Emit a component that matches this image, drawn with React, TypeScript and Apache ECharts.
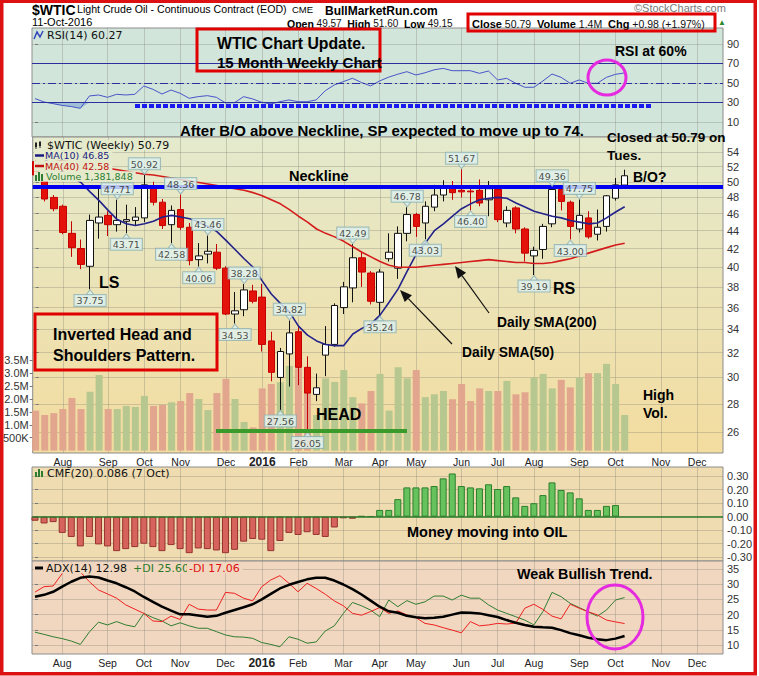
import React, { useEffect, useRef } from "react";
import * as echarts from "echarts";

// ---- weekly bars: index 0 = week of 13-Jul-2015 ... index 65 = week of 10-Oct-2016 ----
const opens = [52.7,50.9,48.0,46.9,43.7,42.0,40.1,44.9,45.8,44.7,45.1,45.2,45.5,49.3,47.4,44.7,46.5,44.4,40.8,41.4,41.6,39.9,35.4,35.8,37.6,37.0,33.0,30.0,31.9,33.8,30.8,28.7,31.8,32.7,36.0,37.9,41.0,39.4,36.5,40.9,39.9,43.7,45.9,44.9,46.8,48.3,49.3,48.9,48.8,48.9,47.7,49.0,44.9,46.7,44.2,41.2,41.9,44.8,49.0,47.4,44.2,45.5,43.6,44.5,47.9,49.57];
const highs = [53.3,51.2,48.3,47.1,45.1,43.0,45.9,49.4,46.3,47.71,47.1,46.8,50.92,50.0,47.8,47.0,48.36,44.9,42.6,43.46,42.5,40.1,37.5,38.28,38.2,38.3,33.8,32.4,34.82,34.2,31.7,30.3,34.3,36.4,38.5,42.49,41.7,39.6,39.8,43.7,44.5,46.78,46.1,47.5,49.6,50.2,50.1,51.67,49.4,50.3,50.1,49.3,46.9,46.9,44.4,42.2,44.8,49.36,49.1,47.6,47.75,46.3,46.5,48.3,50.5,51.60];
const lows = [50.5,47.5,46.3,43.6,41.1,39.8,37.75,43.1,43.4,43.9,43.71,44.6,45.0,47.0,44.2,42.58,44.1,40.2,40.06,40.4,39.7,35.3,34.53,35.2,36.4,32.1,29.7,27.56,29.3,29.4,26.05,28.2,30.1,32.5,35.4,36.5,38.0,36.3,35.24,40.6,38.8,42.8,43.3,43.03,46.3,47.5,47.7,48.0,46.40,46.9,45.7,45.0,44.4,43.7,40.6,39.19,40.9,44.4,46.4,43.00,43.8,43.1,42.9,43.9,47.6,49.15];
const closes = [50.9,47.8,46.6,43.8,42.1,40.3,45.2,45.6,44.7,45.2,45.3,45.6,49.6,47.4,44.6,46.4,44.4,40.7,41.2,41.7,39.9,35.4,35.7,37.7,36.6,32.7,30.4,32.1,33.7,30.8,28.8,29.2,32.7,36.2,38.0,41.0,39.5,36.6,39.5,41.6,43.7,45.9,44.5,46.9,48.3,49.2,48.6,48.7,48.7,47.3,49.1,45.3,46.4,44.2,41.5,41.8,44.5,49.0,47.5,44.5,45.8,43.3,44.4,48.2,49.6,50.79];
// volume in millions, and whether the bar was drawn green (1) or red (0)
const volumesM = [1.55,1.38,1.45,1.61,2.04,1.61,2.28,2.93,1.61,1.61,1.73,1.69,2.12,1.73,1.77,1.87,1.92,2.23,2.0,1.57,2.23,2.78,2.0,1.11,0.90,2.41,2.58,2.65,3.28,3.19,2.25,1.38,2.80,2.66,3.12,2.07,1.83,2.31,2.97,1.55,3.23,2.80,3.12,2.07,2.18,2.31,1.99,2.58,1.92,2.41,2.31,2.31,2.70,2.18,2.26,2.84,2.97,2.41,2.74,2.45,2.84,3.0,3.0,3.36,2.58,1.38];
const volumeUp = [0,0,0,0,0,0,1,1,0,1,1,1,1,0,0,1,0,0,1,1,0,0,1,1,0,0,0,1,1,0,0,1,1,1,1,1,0,0,1,1,1,1,0,1,1,1,0,0,0,0,1,0,1,0,0,1,1,1,0,0,1,0,1,1,1,1];
const ma10 = [54.0,53.0,52.0,51.3,50.6,49.9,48.7,47.6,46.4,45.3,44.8,44.6,44.8,45.1,45.6,45.8,45.6,45.4,45.0,44.5,43.9,42.9,41.9,40.9,40.0,38.6,37.3,36.4,35.6,34.3,33.5,33.0,32.7,32.6,32.6,33.6,34.1,34.5,35.3,36.5,37.8,39.6,41.4,42.6,44.0,44.8,45.7,46.6,47.2,47.7,47.9,48.0,47.9,47.3,46.8,46.3,46.0,45.7,45.5,45.2,45.0,44.8,44.9,45.5,46.2,46.85];
const ma40 = [53.6,53.4,53.1,52.8,52.6,52.4,52.2,52.0,51.8,51.6,51.4,51.2,51.0,50.9,50.7,50.5,50.3,50.1,49.9,49.7,49.5,49.3,49.1,48.9,48.6,48.2,47.7,47.2,46.5,45.7,45.0,44.2,43.7,43.3,42.8,42.2,41.6,41.1,40.6,40.2,40.0,40.0,40.0,40.1,40.2,40.3,40.4,40.5,40.6,40.7,40.8,40.7,40.6,40.5,40.5,40.4,40.4,40.5,40.7,40.9,41.2,41.5,41.8,42.1,42.4,42.58];
const rsi14 = [34.0,30.5,28.8,27.0,25.8,24.0,36.7,37.7,35.3,38.4,37.7,38.4,46.9,43.5,38.7,42.8,39.4,34.3,36.0,37.0,35.3,29.6,29.8,36.0,33.6,30.2,28.5,30.8,32.6,30.8,30.8,32.6,42.1,48.0,51.4,54.8,50.5,47.0,52.1,56.0,59.0,61.6,58.2,60.5,63.5,65.0,62.6,62.6,62.6,59.9,62.3,53.1,54.8,49.7,45.6,45.6,52.1,59.2,55.8,49.7,53.1,49.7,49.7,55.8,58.9,60.27];
const cmf20 = [-0.03,-0.05,-0.04,-0.12,-0.15,-0.22,-0.15,-0.205,-0.22,-0.255,-0.24,-0.225,-0.20,-0.225,-0.255,-0.21,-0.24,-0.27,-0.235,-0.24,-0.25,-0.27,-0.245,-0.185,-0.165,-0.17,-0.255,-0.18,-0.12,-0.135,-0.115,-0.135,-0.15,-0.08,-0.012,-0.015,0.005,0.003,0.05,0.05,0.13,0.217,0.217,0.217,0.227,0.284,0.32,0.227,0.217,0.21,0.24,0.205,0.227,0.143,0.08,0.10,0.16,0.254,0.198,0.18,0.136,0.05,0.05,0.08,0.086];
const adx14 = [25.9,26.5,27.5,29.2,30.8,32.1,32.5,32.2,31.2,30.3,29.0,27.6,25.8,24.2,22.6,21.3,20.1,20.1,19.7,19.3,19.6,20.6,21.5,22.4,23.4,25.0,26.8,28.6,29.8,30.7,31.6,32.1,32.1,31.2,29.9,28.4,26.6,24.6,22.6,21.1,20.6,19.6,19.1,18.8,19.0,19.3,20.0,20.7,20.6,20.4,19.8,19.2,18.2,17.3,16.6,16.0,15.8,15.7,14.9,13.9,13.2,12.4,11.9,11.6,12.1,12.98];
const plusDI = [14.2,13.5,12.7,12.1,11.3,10.2,14.3,17.5,16.6,17.7,16.6,16.0,20.4,19.0,17.9,16.3,17.3,16.3,15.5,15.5,14.4,13.3,12.7,12.6,12.2,10.8,10.2,9.4,12.7,11.9,10.6,11.0,14.6,16.3,20.4,24.0,22.9,21.5,19.3,24.8,22.6,24.6,23.4,24.2,26.1,26.1,24.8,26.4,25.4,25.4,23.2,21.5,20.4,19.3,18.2,16.6,21.0,27.3,25.9,23.7,22.3,20.9,19.5,21.5,24.8,25.60];
const minusDI = [27.4,29.2,29.4,33.5,37.0,34.0,30.8,28.1,26.8,25.4,23.2,21.8,20.4,17.9,17.7,19.5,18.4,23.4,21.8,21.5,21.5,27.3,27.0,25.4,24.5,29.2,31.4,32.8,30.3,27.5,30.3,28.6,26.7,24.5,22.9,20.4,19.8,21.0,22.3,20.4,21.2,19.9,19.0,17.1,16.6,15.7,14.9,14.0,17.7,16.3,16.6,17.1,16.9,17.2,22.1,23.4,21.7,19.5,18.6,23.4,22.1,20.9,19.9,18.2,17.6,17.06];

// labelled highs / lows (bar index, side)
const calloutBars = [6,9,10,12,15,16,18,19,22,23,27,28,30,35,38,41,43,47,48,55,57,59,60];
const calloutSide = ["low","high","low","high","low","high","low","high","low","high","low","high","low","high","low","high","low","high","low","low","high","low","high"];

// axis ticks
const monthTickIdx = [3,8,12,16,21,25,29,34,38,42,47,51,55,60,64,69,73];
const monthTickLabels = ["Aug","Sep","Oct","Nov","Dec","2016","Feb","Mar","Apr","May","Jun","Jul","Aug","Sep","Oct","Nov","Dec"];
const priceTicks = [26,28,30,32,34,36,38,40,42,44,46,48,50,52,54];
const volumeTicks = [500000,1000000,1500000,2000000,2500000,3000000,3500000];
const rsiTicks = [10,30,50,70,90];
const cmfTicks = [-0.3,-0.2,-0.1,0,0.1,0.2,0.3];
const adxTicks = [10,15,20,25,30,35];
const necklineLevel = 49.6;
const rsiOversold = 30;

const X_MIN = -0.33, X_MAX = 75.85;
const LN = Math.log;
const GRIDC = "rgba(120,120,110,0.30)";
const AXF = "Liberation Sans";
const LEGF = "DejaVu Sans";

function buildOption() {
  const idx = closes.map((_, i) => i);
  const candleData = idx.map((i) => [i, LN(opens[i]), LN(closes[i]), LN(lows[i]), LN(highs[i])]);

  const xAxis = (gi: number, showLabel: boolean) => ({
    type: "value", gridIndex: gi, min: X_MIN, max: X_MAX,
    axisLine: { show: false },
    axisTick: { show: false, customValues: monthTickIdx },
    axisLabel: {
      show: showLabel, customValues: monthTickIdx, margin: 3,
      fontFamily: AXF, fontSize: 10.5, color: "#222",
      formatter: (v: number) => {
        const k = monthTickIdx.indexOf(Math.round(v));
        const s = k >= 0 ? monthTickLabels[k] : "";
        return s === "2016" ? "{b|2016}" : s;
      },
      rich: { b: { fontWeight: "bold", fontSize: 12, fontFamily: AXF, color: "#222" } },
    },
    splitLine: { show: true, lineStyle: { color: GRIDC, width: 1 } },
  });

  const yRight = (gi: number, min: number, max: number, ticks: number[], fmt: (v: number) => string) => ({
    type: "value", gridIndex: gi, position: "right", min, max,
    axisLine: { show: false },
    axisTick: { show: true, length: 3, customValues: ticks, lineStyle: { color: "#777" } },
    axisLabel: { customValues: ticks, formatter: fmt, margin: 4, fontFamily: AXF, fontSize: 11, color: "#333" },
    splitLine: { show: true, lineStyle: { color: GRIDC, width: 1 } },
  });

  const calloutData = calloutBars.map((b, k) => {
    const hi = calloutSide[k] === "high";
    const v = hi ? highs[b] : lows[b];
    return { name: v.toFixed(2), value: [b, LN(v)], label: { position: hi ? "top" : "bottom" } };
  });
  const pointerData = calloutBars.map((b, k) => {
    const hi = calloutSide[k] === "high";
    const v = hi ? highs[b] : lows[b];
    return { value: [b, LN(v)], symbolRotate: hi ? 180 : 0, symbolOffset: [0, hi ? -3 : 3] };
  });

  const rsiLow = rsi14.map((v, i) => [i, Math.min(v, rsiOversold)]);

  const series: any[] = [
    // RSI panel: shading between the RSI line and 30 where RSI is below 30
    {
      type: "line", xAxisIndex: 0, yAxisIndex: 0, data: rsiLow, symbol: "none", silent: true,
      lineStyle: { opacity: 0 }, areaStyle: { color: "#9fbfd4", opacity: 1, origin: rsiOversold }, z: 1,
    },
    {
      type: "line", xAxisIndex: 0, yAxisIndex: 0, data: rsi14.map((v, i) => [i, v]), symbol: "none",
      lineStyle: { color: "#4754c8", width: 1 }, z: 3,
      markLine: {
        silent: true, symbol: ["none", "none"], label: { show: false },
        lineStyle: { color: "#2d2f9e", width: 1, type: "solid" },
        data: [
          { yAxis: 70 }, { yAxis: 30 },
          { yAxis: 50, lineStyle: { color: "#2d2f9e", width: 1, type: [8, 3, 2, 3] } },
        ],
      },
    },
    // volume
    {
      type: "bar", xAxisIndex: 1, yAxisIndex: 2, barWidth: 7, z: 1, silent: true,
      data: volumesM.map((v, i) => ({ value: [i, v * 1e6], itemStyle: { color: volumeUp[i] ? "#b6c78f" : "#e2a68e" } })),
    },
    // candles
    {
      type: "candlestick", xAxisIndex: 1, yAxisIndex: 1, data: candleData, encode: { x: 0, y: [1, 2, 3, 4] },
      barWidth: 7, z: 3,
      itemStyle: { color: "#ffffff", color0: "#e3120b", borderColor: "#111111", borderColor0: "#c40000", borderWidth: 1 },
      markLine: {
        silent: true, symbol: ["none", "none"], label: { show: false }, z: 6,
        lineStyle: { color: "#0000ee", width: 4, type: "solid" },
        data: [{ yAxis: LN(necklineLevel) }],
      },
    },
    { type: "line", xAxisIndex: 1, yAxisIndex: 1, data: ma10.map((v, i) => [i, LN(v)]), symbol: "none", lineStyle: { color: "#22228a", width: 1.6 }, z: 4 },
    { type: "line", xAxisIndex: 1, yAxisIndex: 1, data: ma40.map((v, i) => [i, LN(v)]), symbol: "none", lineStyle: { color: "#d41c1c", width: 1.6 }, z: 4 },
    {
      type: "scatter", xAxisIndex: 1, yAxisIndex: 1, data: pointerData, symbol: "triangle", symbolSize: [8, 5], z: 7, silent: true,
      itemStyle: { color: "#def1ef", borderColor: "#8fb1b1", borderWidth: 1 },
    },
    {
      type: "scatter", xAxisIndex: 1, yAxisIndex: 1, data: calloutData, symbolSize: 1, z: 8, silent: true,
      itemStyle: { color: "transparent" },
      label: {
        show: true, formatter: "{b}", distance: 5, fontFamily: LEGF, fontSize: 9.5, color: "#222",
        backgroundColor: "#def1ef", borderColor: "#8fb1b1", borderWidth: 1, padding: [1, 2, 0, 2],
      },
    },
    // CMF
    {
      type: "bar", xAxisIndex: 2, yAxisIndex: 3, barWidth: 7, z: 2, silent: true,
      data: cmf20.map((v, i) => ({
        value: [i, v],
        itemStyle: v >= 0 ? { color: "#66c25c", borderColor: "#2c7f2c", borderWidth: 1 } : { color: "#d6645c", borderColor: "#96322e", borderWidth: 1 },
      })),
      markLine: {
        silent: true, symbol: ["none", "none"], label: { show: false },
        lineStyle: { color: "#2d7a2d", width: 1.5, type: "solid" }, data: [{ yAxis: 0 }],
      },
    },
    // ADX
    { type: "line", xAxisIndex: 3, yAxisIndex: 4, data: plusDI.map((v, i) => [i, v]), symbol: "none", lineStyle: { color: "#2f7d32", width: 1 }, z: 3 },
    { type: "line", xAxisIndex: 3, yAxisIndex: 4, data: minusDI.map((v, i) => [i, v]), symbol: "none", lineStyle: { color: "#ee2020", width: 1 }, z: 3 },
    { type: "line", xAxisIndex: 3, yAxisIndex: 4, data: adx14.map((v, i) => [i, v]), symbol: "none", lineStyle: { color: "#000000", width: 2.5 }, z: 4 },
  ];

  const T = (x: number, y: number, text: string, font: string, fill = "#000", extra: any = {}) => ({
    type: "text", x, y, z: 100, style: { text, font, fill, verticalAlign: "middle", ...extra },
  });
  const F = (size: number, bold = false, family = AXF) => `${bold ? "bold " : ""}${size}px "${family}"`;
  const L = (x1: number, y1: number, x2: number, y2: number, stroke: string, lineWidth: number, extra: any = {}) => ({
    type: "line", z: 100, shape: { x1, y1, x2, y2 }, style: { stroke, lineWidth, ...extra },
  });
  const arrow = (x1: number, y1: number, x2: number, y2: number) => {
    const dx = x2 - x1, dy = y2 - y1, len = Math.hypot(dx, dy), ux = dx / len, uy = dy / len;
    const hl = 12, hw = 5;
    const bx = x2 - ux * hl, by = y2 - uy * hl;
    return [
      L(x1, y1, bx, by, "#111", 1.2),
      { type: "polygon", z: 100, shape: { points: [[x2, y2], [bx - uy * hw, by + ux * hw], [bx + uy * hw, by - ux * hw]] }, style: { fill: "#111" } },
    ];
  };
  const PRICE_LEG_BG = "#e5eacc";
  const legStyle = (bg: string, padLeft: number, lh = 10.5) => ({ backgroundColor: bg, padding: [0, 3, 0, padLeft], lineHeight: lh });

  const graphic: any[] = [
    // header
    T(32, 9.5, "$WTIC", F(14, true)),
    T(77, 9, "Light Crude Oil - Continuous Contract (EOD)", F(10.6)),
    T(292, 9.5, "CME", F(9.5)),
    T(32, 22, "11-Oct-2016", F(11)),
    T(325, 11, "BullMarketRun.com", F(12, true), "#000", { lineHeight: 12 }),
    T(634, 7.5, "©StockCharts.com", F(11), "#7a7a7a"),
    T(287, 23.5, "{b|Open} 49.57  {b|High} 51.60  {b|Low} 49.15", F(10), "#111", { lineHeight: 11, rich: { b: { font: F(10.5, true), fill: "#000", lineHeight: 11 } } }),
    T(472, 23.5, "{b|Close} 50.79  {b|Volume} 1.4M  {b|Chg} +0.98 (+1.97%)", F(10.5), "#111", { lineHeight: 11, rich: { b: { font: F(11, true), fill: "#000", lineHeight: 11 } } }),
    { type: "rect", z: 100, shape: { x: 468, y: 14, width: 247, height: 17 }, style: { fill: "none", stroke: "#e00000", lineWidth: 3 } },
    T(718, 22, "▲", F(8), "#2c8a2c"),

    // RSI legend
    { type: "polyline", z: 100, shape: { points: [[34, 39], [37, 32], [40, 37], [43, 31]] }, style: { stroke: "#3344bb", lineWidth: 1.5, fill: "none" } },
    T(47, 35, "RSI(14) 60.27", F(11, false, LEGF), "#111"),

    // price legend
    T(34, 145, "$WTIC (Weekly) 50.79", F(11, false, LEGF), "#111", legStyle(PRICE_LEG_BG, 13, 10)),
    L(36, 142, 36, 149, "#222", 1), { type: "rect", z: 101, shape: { x: 35, y: 143, width: 2, height: 4 }, style: { fill: "#222" } },
    L(40, 141, 40, 148, "#222", 1), { type: "rect", z: 101, shape: { x: 39, y: 142, width: 2, height: 4 }, style: { fill: "#222" } },
    T(34, 155.5, "MA(10) 46.85", F(9.5, false, LEGF), "#1a1a80", legStyle(PRICE_LEG_BG, 11)),
    { ...L(35, 155.5, 44, 155.5, "#1a1a80", 2.5), z: 101 },
    T(34, 166, "MA(40) 42.58", F(9.5, false, LEGF), "#c01010", legStyle(PRICE_LEG_BG, 11)),
    { ...L(35, 166, 44, 166, "#c01010", 2.5), z: 101 },
    T(34, 176.5, "Volume 1,381,848", F(9.5, false, LEGF), "#2e7d32", legStyle(PRICE_LEG_BG, 12)),
    { type: "rect", z: 101, shape: { x: 35, y: 175, width: 2, height: 6 }, style: { fill: "#2e7d32" } },
    { type: "rect", z: 101, shape: { x: 38, y: 172, width: 2, height: 9 }, style: { fill: "#2e7d32" } },
    { type: "rect", z: 101, shape: { x: 41, y: 174, width: 2, height: 7 }, style: { fill: "#2e7d32" } },

    // CMF legend
    { type: "rect", z: 101, shape: { x: 35, y: 472, width: 2, height: 5 }, style: { fill: "#2e7d32" } },
    { type: "rect", z: 101, shape: { x: 38, y: 469, width: 2, height: 8 }, style: { fill: "#2e7d32" } },
    { type: "rect", z: 101, shape: { x: 41, y: 471, width: 2, height: 6 }, style: { fill: "#2e7d32" } },
    T(47, 473, "CMF(20) 0.086 (7 Oct)", F(11, false, LEGF), "#111"),

    // ADX legend
    T(34, 568, "ADX(14) 12.98", F(11, false, LEGF), "#111", legStyle("#f1d7bf", 12)),
    { ...L(35, 568, 43, 568, "#000", 3), z: 101 },
    T(131, 568, "+DI 25.60", F(11, false, LEGF), "#2a7a2a", legStyle("#f1d7bf", 2)),
    T(187, 568, "-DI 17.06", F(11, false, LEGF), "#e01010", legStyle("#f1d7bf", 2)),

    // annotations – RSI panel
    { type: "rect", z: 100, shape: { x: 197, y: 29, width: 183, height: 42 }, style: { fill: "none", stroke: "#e00000", lineWidth: 3 } },
    T(217, 43, "WTIC Chart Update.", F(15.8, true)),
    T(217, 62, "15 Month Weekly Chart", F(15, true)),
    T(615, 50.5, "RSI at 60%", F(14, true)),
    { type: "ellipse", z: 100, shape: { cx: 607, cy: 77.5, rx: 19, ry: 17.5 }, style: { fill: "none", stroke: "#e52ae0", lineWidth: 3 } },
    L(135, 106, 653, 106, "#1a1aee", 4, { lineDash: [5, 2] }),
    T(180, 130, "After B/O above Neckline, SP expected to move up to 74.", F(15, true)),

    // annotations – price panel
    T(607, 137, "Closed at 50.79 on", F(13.5, true)),
    T(607, 155.5, "Tues.", F(13.5, true)),
    T(633, 177, "B/O?", F(14, true)),
    T(289, 176, "Neckline", F(14.5, true)),
    T(99, 282, "LS", F(16, true)),
    T(316, 414, "HEAD", F(16, true)),
    T(553, 288, "RS", F(16, true)),
    L(216, 431, 407, 431, "#3a9a2a", 4),
    { type: "rect", z: 100, shape: { x: 35, y: 314, width: 182, height: 56 }, style: { fill: "none", stroke: "#e00000", lineWidth: 3 } },
    T(53, 334, "Inverted Head and", F(16, true)),
    T(53, 355, "Shoulders Pattern.", F(16, true)),
    T(497, 322, "Daily SMA(200)", F(13.8, true)),
    T(462, 352, "Daily SMA(50)", F(13.8, true)),
    ...arrow(452, 344, 400, 290),
    ...arrow(489, 313, 455, 266),
    T(643, 395, "High", F(14, true)),
    T(643, 413, "Vol.", F(14, true)),

    // CMF / ADX annotations
    T(407, 532, "Money moving into OIL", F(14.5, true)),
    T(517, 574, "Weak Bullish Trend.", F(14.3, true)),
    { type: "ellipse", z: 100, shape: { cx: 615, cy: 617, rx: 28, ry: 32 }, style: { fill: "none", stroke: "#e52ae0", lineWidth: 3 } },

    // outer frame
    { type: "rect", z: 110, shape: { x: 1.75, y: 1.25, width: 753.5, height: 672.5 }, style: { fill: "none", stroke: "#dd1111", lineWidth: 3.5 } },
  ];

  return {
    animation: false,
    backgroundColor: "#ffffff",
    textStyle: { fontFamily: AXF },
    grid: [
      { left: 32, top: 28, width: 691, height: 109, show: true, backgroundColor: "#d2e5db", borderColor: "#8c8c8c", borderWidth: 1 },
      {
        left: 32, top: 137, width: 691, height: 316, show: true, borderColor: "#8c8c8c", borderWidth: 1,
        backgroundColor: { type: "linear", x: 0, y: 0, x2: 0, y2: 1, colorStops: [{ offset: 0, color: "#e4eacd" }, { offset: 0.5, color: "#ece3b6" }, { offset: 1, color: "#f3dc9f" }] },
      },
      { left: 32, top: 467, width: 691, height: 94, show: true, backgroundColor: "#efdcb1", borderColor: "#8c8c8c", borderWidth: 1 },
      { left: 32, top: 561, width: 691, height: 93, show: true, backgroundColor: "#f1d7bf", borderColor: "#8c8c8c", borderWidth: 1 },
    ],
    xAxis: [xAxis(0, false), xAxis(1, true), xAxis(2, false), xAxis(3, true)],
    yAxis: [
      yRight(0, -5.4, 106.4, rsiTicks, (v) => String(Math.round(v))),
      yRight(1, 3.2039, 4.0289, priceTicks.map(LN), (v) => String(Math.round(Math.exp(v)))),
      {
        type: "value", gridIndex: 1, position: "left", min: -93000, max: 12150000,
        axisLine: { show: false },
        axisTick: { show: true, length: 3, customValues: volumeTicks, lineStyle: { color: "#777" } },
        axisLabel: {
          customValues: volumeTicks, margin: 4, fontFamily: AXF, fontSize: 11, color: "#333",
          formatter: (v: number) => (v < 1e6 ? `${Math.round(v / 1000)}K` : `${(v / 1e6).toFixed(1)}M`),
        },
        splitLine: { show: false },
      },
      yRight(2, -0.328, 0.368, cmfTicks, (v) => (Math.abs(v) < 1e-9 ? "0.00" : v.toFixed(2))),
      yRight(3, 7.04, 37.63, adxTicks, (v) => String(Math.round(v))),
    ],
    series,
    graphic,
  };
}

export default function App() {
  const ref = useRef<HTMLDivElement>(null);
  useEffect(() => {
    const chart = echarts.init(ref.current as HTMLDivElement, null, { renderer: "svg" });
    chart.setOption(buildOption() as any);
    return () => chart.dispose();
  }, []);
  return <div ref={ref} style={{ position: "absolute", left: 0, top: 0, width: 759, height: 676, background: "#fff" }} />;
}
